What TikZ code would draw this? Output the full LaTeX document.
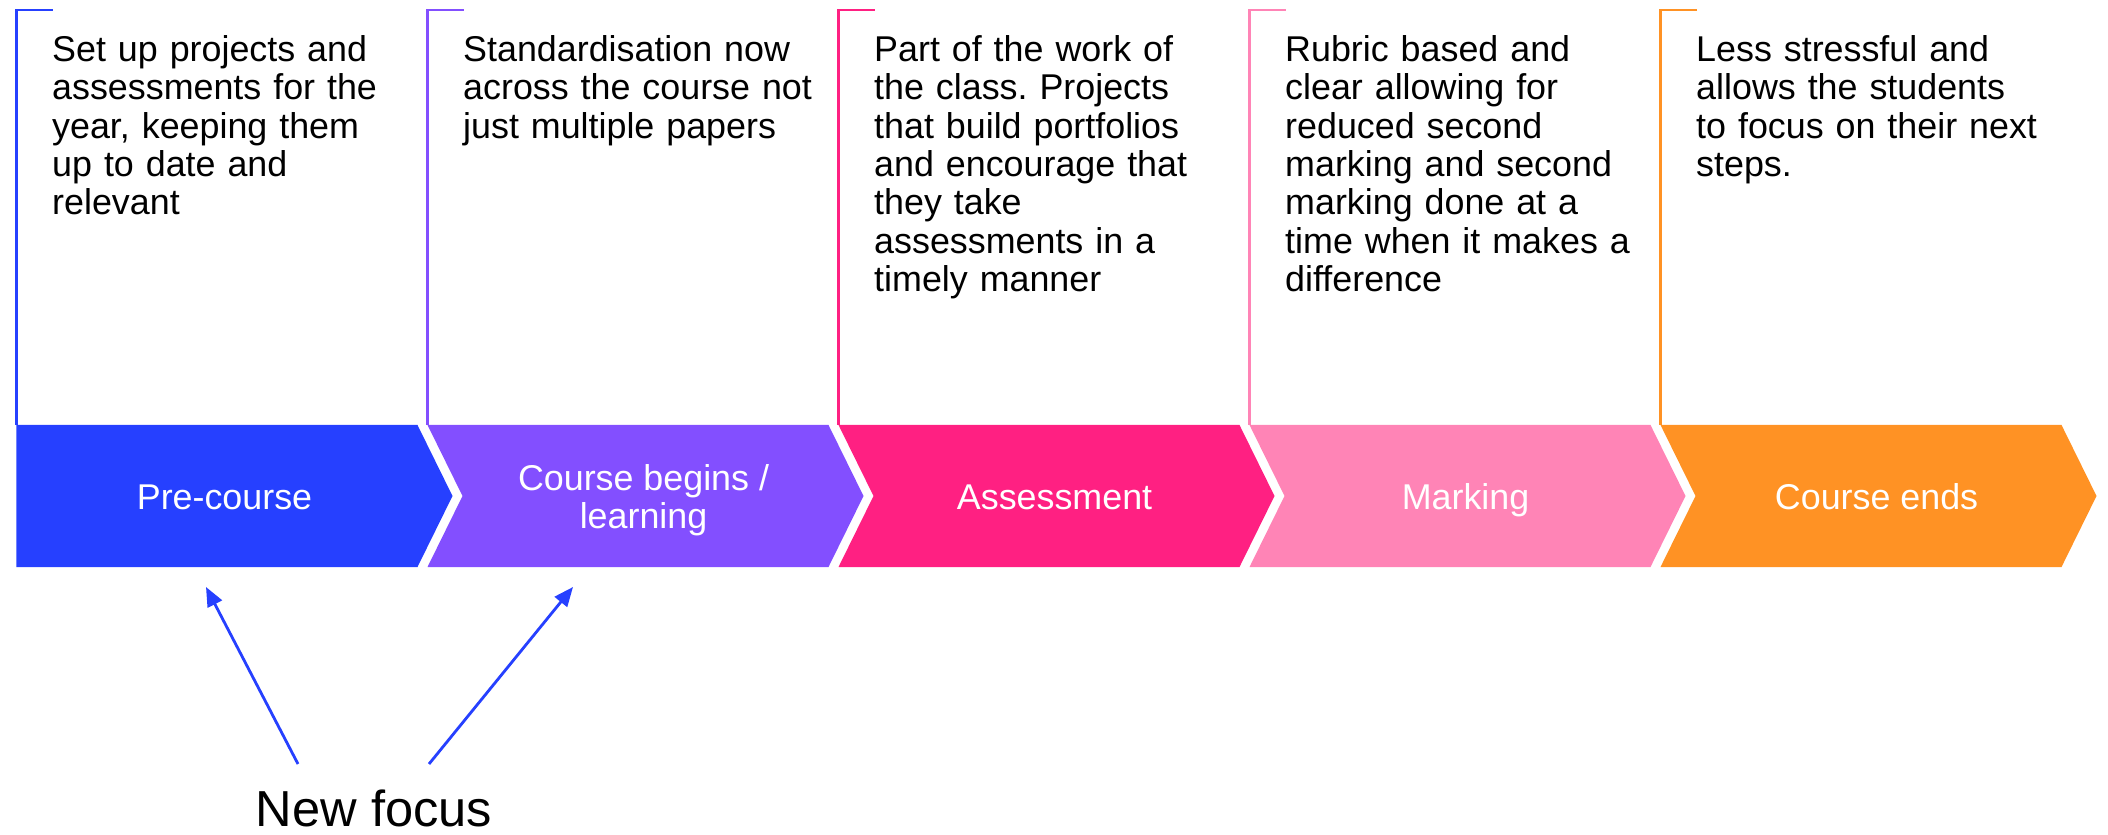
\documentclass[tikz,border=0pt]{standalone}
\usepackage{fontspec}
\setmainfont{Liberation Sans}
\usetikzlibrary{arrows.meta}
\definecolor{stageA}{RGB}{38,64,255}
\definecolor{stageB}{RGB}{131,79,255}
\definecolor{stageC}{RGB}{255,32,130}
\definecolor{stageD}{RGB}{255,132,182}
\definecolor{stageE}{RGB}{255,146,36}
\frenchspacing
\begin{document}
\begin{tikzpicture}[line join=miter,
 band/.style={fill=#1, draw=none},
 bracket/.style={draw=#1, line width=0.75pt},
 tag/.style={text=white, align=center, inner sep=0pt, text height=#1, text depth=0pt,
  font=\fontsize{10.2}{10.9}\selectfont},
 note/.style={anchor=north west, text width=3.75cm, align=left, inner sep=0pt,
  font=\fontsize{10.2}{10.9}\selectfont},
 focus/.style={anchor=base, inner sep=0pt, font=\fontsize{14.4}{16}\selectfont},
 hint/.style={draw=stageA, line width=0.8pt, -{Triangle[length=5.5pt,width=4.5pt]}}]

\useasboundingbox (0,0) rectangle (21.08,8.34);

 \foreach \i/\n/\col/\hgt/\lab/\txt in {
  0/0/stageA/7.3pt/{Pre-course}/{Set up projects and\\assessments for the\\year, keeping them\\up to date and\\relevant},
  1/0.35/stageB/18.2pt/{Course begins /\\learning}/{Standardisation now\\across the course not\\just multiple papers},
  2/0.35/stageC/7.3pt/{Assessment}/{Part of the work of\\the class. Projects\\that build portfolios\\and encourage that\\they take\\assessments in a\\timely manner},
  3/0.35/stageD/7.3pt/{Marking}/{Rubric based and\\clear allowing for\\reduced second\\marking and second\\marking done at a\\time when it makes a\\difference},
  4/0.35/stageE/7.3pt/{Course ends}/{Less stressful and\\allows the students\\to focus on their next\\steps.}} {
 \begin{scope}[shift={({0.165+4.11*\i},0)}]
  \draw[bracket=\col] (0,4.09) -- (0,8.24) -- (0.36,8.24);
  \fill[band=\col] (0,4.09) -- (4.01,4.09) -- (4.36,3.38) -- (4.01,2.67)
   -- (0,2.67) -- (\n,3.38) -- cycle;
  \node[tag=\hgt] (lab\i) at ({2.08+0.23*\n},3.37) {\lab};
  \node[note] (txt\i) at (0.35,7.99) {\txt};
 \end{scope}
 }

\node[focus] (nf) at (3.74,0.08) {New focus};
\coordinate (from1) at (2.98,0.70);
\coordinate (from2) at (4.29,0.70);
\coordinate (aim1) at (2.06,2.47);
\coordinate (aim2) at (5.73,2.47);
\draw[hint] (from1) -- (aim1);
\draw[hint] (from2) -- (aim2);
\end{tikzpicture}
\end{document}
